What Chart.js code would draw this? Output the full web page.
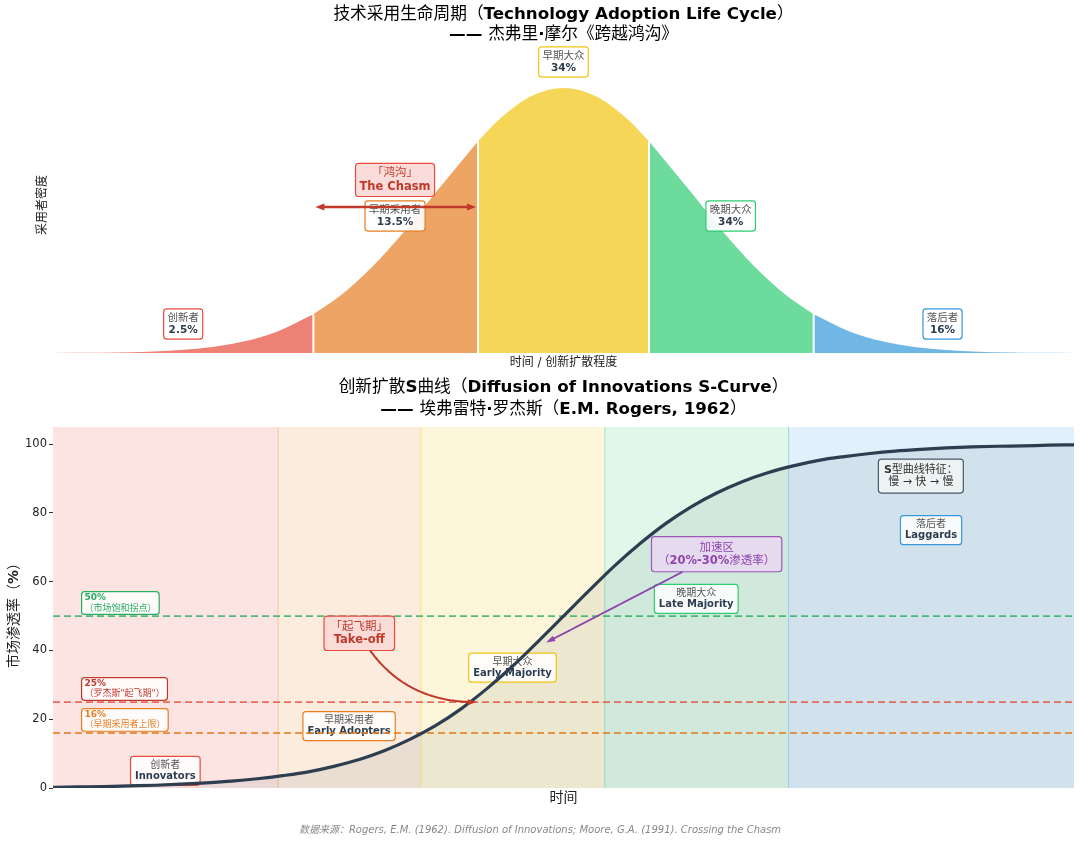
<!DOCTYPE html>
<html lang="zh">
<head>
<meta charset="utf-8">
<title>技术采用生命周期 / 创新扩散S曲线</title>
<script src="https://cdn.jsdelivr.net/npm/chart.js@4.4.1/dist/chart.umd.min.js"></script>
<style>
  html, body { margin: 0; padding: 0; background: #fff; }
  #wrap { position: relative; width: 1080px; height: 842px; overflow: hidden; }
  #bell { position: absolute; left: 0; top: 0; }
  #scurve { position: absolute; left: 0; top: 370px; }
</style>
</head>
<body>
<div id="wrap">
  <canvas id="bell" width="1080" height="370"></canvas>
  <canvas id="scurve" width="1080" height="472"></canvas>
</div>
<script>
// ---- 上图：技术采用生命周期（钟形曲线）----
var bellZ       = [-4, -3.75, -3.5, -3.25, -3, -2.75, -2.5, -2.25, -1.96, -1.75, -1.5, -1.25, -1, -0.67, -0.5, -0.25,
                   0, 0.25, 0.5, 0.67, 1, 1.25, 1.5, 1.75, 1.96, 2.25, 2.5, 2.75, 3, 3.25, 3.5, 3.75, 4];
var bellDensity = [0.0001, 0.0004, 0.0009, 0.0020, 0.0044, 0.0091, 0.0175, 0.0317, 0.0584, 0.0863, 0.1295, 0.1826, 0.2420, 0.3187, 0.3521, 0.3867,
                   0.3989, 0.3867, 0.3521, 0.3187, 0.2420, 0.1826, 0.1295, 0.0863, 0.0584, 0.0317, 0.0175, 0.0091, 0.0044, 0.0020, 0.0009, 0.0004, 0.0001];
var segmentBounds = [-4, -1.96, -0.67, 0.67, 1.96, 4];
var segmentNames  = ['创新者', '早期采用者', '早期大众', '晚期大众', '落后者'];
var segmentShares = ['2.5%', '13.5%', '34%', '34%', '16%'];

// ---- 下图：创新扩散S曲线 ----
var timeSteps = [0, 0.25, 0.5, 0.75, 1, 1.25, 1.5, 1.75, 2, 2.25, 2.5, 2.75, 3, 3.25, 3.5, 3.75, 4, 4.25, 4.5, 4.75,
                 5, 5.25, 5.5, 5.75, 6, 6.25, 6.5, 6.75, 7, 7.25, 7.5, 7.75, 8, 8.25, 8.5, 8.75, 9, 9.25, 9.5, 9.75, 10];
var adoption  = [0.2, 0.3, 0.4, 0.6, 0.8, 1.1, 1.5, 2.0, 2.7, 3.6, 4.7, 6.3, 8.3, 10.9, 14.2, 18.2, 23.1, 28.9, 35.4, 42.6,
                 50.0, 57.4, 64.6, 71.1, 76.9, 81.8, 85.8, 89.1, 91.7, 93.7, 95.3, 96.4, 97.3, 98.0, 98.5, 98.9, 99.2, 99.4, 99.5, 99.7, 99.8];
var phaseBounds  = [0, 2.2, 3.6, 5.4, 7.2, 10];
var phaseNamesCn = ['创新者', '早期采用者', '早期大众', '晚期大众', '落后者'];
var phaseNamesEn = ['Innovators', 'Early Adopters', 'Early Majority', 'Late Majority', 'Laggards'];
var thresholds      = [50, 25, 16];
var thresholdLabels = ['50%', '25%', '16%'];
var thresholdNotes  = ['（市场饱和拐点）', '（罗杰斯"起飞期"）', '（早期采用者上限）'];
var yTicks = [0, 20, 40, 60, 80, 100];

// colours (flat UI palette)
var baseRGB = ['231,76,60', '230,126,34', '241,196,15', '46,204,113', '52,152,219'];
var edgeCol = ['#e74c3c', '#e67e22', '#f1c40f', '#2ecc71', '#3498db'];
var lineCol = ['rgba(39,174,96,0.8)', 'rgba(231,76,60,0.8)', 'rgba(230,126,34,0.8)'];
var noteCol = ['#27ae60', '#c0392b', '#e67e22'];

var FONT = "'DejaVu Sans', 'Noto Sans CJK SC', sans-serif";

function isCJK(ch) {
    var c = ch.codePointAt(0);
    return (c >= 0x2E80 && c <= 0x9FFF) || (c >= 0xFF00 && c <= 0xFFEF);
}

// CJK glyphs stay regular even in bold runs (falls back like matplotlib does)
function pieces(runs) {
    var out = [];
    runs.forEach(function(r) {
        var cur = '', curCjk = null;
        for (var ch of r[0]) {
            var cj = isCJK(ch);
            if (curCjk !== null && cj !== curCjk) { out.push([cur, r[1] && !curCjk]); cur = ''; }
            cur += ch; curCjk = cj;
        }
        if (cur) out.push([cur, r[1] && !curCjk]);
    });
    return out;
}

function fontFor(bold, size, italic) {
    return (italic ? 'italic ' : '') + (bold ? 'bold ' : '') + size + 'px ' + FONT;
}

function runsWidth(ctx, runs, size, italic) {
    var w = 0;
    pieces(runs).forEach(function(p) { ctx.font = fontFor(p[1], size, italic); w += ctx.measureText(p[0]).width; });
    return w;
}

function drawRuns(ctx, runs, x, y, size, color, align, italic) {
    var w = runsWidth(ctx, runs, size, italic);
    var cx = align === 'left' ? x : (align === 'right' ? x - w : x - w / 2);
    ctx.fillStyle = color;
    ctx.textBaseline = 'middle';
    ctx.textAlign = 'left';
    pieces(runs).forEach(function(p) {
        ctx.font = fontFor(p[1], size, italic);
        ctx.fillText(p[0], cx, y);
        cx += ctx.measureText(p[0]).width;
    });
}

function roundRectPath(ctx, x, y, w, h, r) {
    ctx.beginPath();
    ctx.moveTo(x + r, y);
    ctx.lineTo(x + w - r, y); ctx.quadraticCurveTo(x + w, y, x + w, y + r);
    ctx.lineTo(x + w, y + h - r); ctx.quadraticCurveTo(x + w, y + h, x + w - r, y + h);
    ctx.lineTo(x + r, y + h); ctx.quadraticCurveTo(x, y + h, x, y + h - r);
    ctx.lineTo(x, y + r); ctx.quadraticCurveTo(x, y, x + r, y);
    ctx.closePath();
}

// text box anchored at data coords; align 'left' = anchor is bottom-left corner
function drawBox(chart, b) {
    var ctx = chart.ctx;
    var px = chart.scales.x.getPixelForValue(b.x), py = chart.scales.y.getPixelForValue(b.y);
    var lh = b.size * 1.15;
    var maxW = 0;
    b.lines.forEach(function(l) { maxW = Math.max(maxW, runsWidth(ctx, l.runs, b.size)); });
    var w = maxW + 2 * b.padX, h = b.lines.length * lh + 2 * b.padY;
    var left = b.align === 'left' ? px : px - w / 2;
    var top = b.align === 'left' ? py - h : py - h / 2;
    ctx.save();
    roundRectPath(ctx, left, top, w, h, 3);
    ctx.fillStyle = b.fill; ctx.fill();
    ctx.lineWidth = 1.2; ctx.strokeStyle = b.stroke; ctx.stroke();
    b.lines.forEach(function(l, i) {
        var ty = top + b.padY + lh * (i + 0.5);
        var tx = b.align === 'left' ? left + b.padX : left + w / 2;
        drawRuns(ctx, l.runs, tx, ty, b.size, l.color, b.align === 'left' ? 'left' : 'center');
    });
    ctx.restore();
    return { left: left, top: top, w: w, h: h, cx: left + w / 2, cy: top + h / 2 };
}

function arrowHead(ctx, tip, from, len, wid, color) {
    var a = Math.atan2(tip.y - from.y, tip.x - from.x);
    var bx = tip.x - len * Math.cos(a), by = tip.y - len * Math.sin(a);
    ctx.beginPath();
    ctx.moveTo(tip.x, tip.y);
    ctx.lineTo(bx + wid / 2 * Math.sin(a), by - wid / 2 * Math.cos(a));
    ctx.lineTo(bx - wid / 2 * Math.sin(a), by + wid / 2 * Math.cos(a));
    ctx.closePath();
    ctx.fillStyle = color;
    ctx.fill();
}

// arc3-style connector from a box to a pixel point
function connector(ctx, box, tip, rad, color, lw) {
    var p0 = { x: box.cx, y: box.cy };
    var dx = tip.x - p0.x, dy = tip.y - p0.y;
    var c = { x: (p0.x + tip.x) / 2 - rad * dy, y: (p0.y + tip.y) / 2 + rad * dx };
    function pt(t) {
        return { x: (1 - t) * (1 - t) * p0.x + 2 * (1 - t) * t * c.x + t * t * tip.x,
                 y: (1 - t) * (1 - t) * p0.y + 2 * (1 - t) * t * c.y + t * t * tip.y };
    }
    var t0 = 0, t;
    for (t = 0; t <= 1; t += 0.002) {
        var p = pt(t);
        if (p.x < box.left || p.x > box.left + box.w || p.y < box.top || p.y > box.top + box.h) { t0 = t; break; }
    }
    ctx.save();
    ctx.strokeStyle = color; ctx.lineWidth = lw;
    ctx.beginPath();
    var s = pt(t0);
    ctx.moveTo(s.x, s.y);
    for (t = t0; t <= 1; t += 0.01) {
        var q = pt(t);
        if (Math.hypot(tip.x - q.x, tip.y - q.y) < 6) break;
        ctx.lineTo(q.x, q.y);
    }
    ctx.stroke();
    arrowHead(ctx, tip, rad === 0 ? p0 : c, 9, 6, color);
    ctx.restore();
}

// ================= 上图 =================
var bellPoints = bellZ.map(function(z, i) { return { x: z, y: bellDensity[i] }; });
var segmentDatasets = segmentNames.map(function(name, i) {
    return {
        label: name,
        data: bellPoints.filter(function(p) { return p.x >= segmentBounds[i] - 1e-9 && p.x <= segmentBounds[i + 1] + 1e-9; }),
        backgroundColor: 'rgba(' + baseRGB[i] + ',0.7)',
        borderWidth: 0,
        pointRadius: 0,
        fill: 'origin',
        cubicInterpolationMode: 'monotone'
    };
});

var bellLabelPos = [[-2.98, 0.0437], [-1.32, 0.2062], [0, 0.438], [1.31, 0.2062], [2.97, 0.0437]];

var bellDecor = {
    id: 'bellDecor',
    afterDatasetsDraw: function(chart) {
        var ctx = chart.ctx, xs = chart.scales.x, ys = chart.scales.y, area = chart.chartArea;
        // white separators between segments
        ctx.save();
        ctx.strokeStyle = '#ffffff';
        ctx.lineWidth = 2;
        for (var i = 1; i < segmentBounds.length - 1; i++) {
            var k = bellZ.indexOf(segmentBounds[i]);
            var x = xs.getPixelForValue(segmentBounds[i]);
            ctx.beginPath();
            ctx.moveTo(x, ys.getPixelForValue(0));
            ctx.lineTo(x, ys.getPixelForValue(bellDensity[k]));
            ctx.stroke();
        }
        ctx.restore();

        segmentNames.forEach(function(name, i) {
            drawBox(chart, {
                x: bellLabelPos[i][0], y: bellLabelPos[i][1], size: 10.5, padX: 3.8, padY: 3,
                fill: 'rgba(255,255,255,0.9)', stroke: edgeCol[i],
                lines: [{ runs: [[name, false]], color: '#555555' },
                        { runs: [[segmentShares[i], true]], color: '#2c3e50' }]
            });
        });

        // the chasm
        drawBox(chart, {
            x: -1.32, y: 0.2604, size: 11.5, padX: 4, padY: 3.3,
            fill: 'rgba(250,219,216,0.95)', stroke: '#e74c3c',
            lines: [{ runs: [['「鸿沟」', false]], color: '#c0392b' },
                    { runs: [['The Chasm', true]], color: '#c0392b' }]
        });
        var ay = ys.getPixelForValue(0.2198);
        var ax1 = xs.getPixelForValue(segmentBounds[1]) + 2, ax2 = xs.getPixelForValue(segmentBounds[2]) - 2;
        ctx.save();
        ctx.strokeStyle = '#c0392b'; ctx.lineWidth = 2.5;
        ctx.beginPath(); ctx.moveTo(ax1 + 6, ay); ctx.lineTo(ax2 - 6, ay); ctx.stroke();
        arrowHead(ctx, { x: ax1, y: ay }, { x: ax2, y: ay }, 9, 7, '#c0392b');
        arrowHead(ctx, { x: ax2, y: ay }, { x: ax1, y: ay }, 9, 7, '#c0392b');
        ctx.restore();

        // titles and axis labels
        var cx = (area.left + area.right) / 2;
        drawRuns(ctx, [['技术采用生命周期（Technology Adoption Life Cycle）', true]], cx, 15, 16.7, '#000', 'center');
        drawRuns(ctx, [['—— 杰弗里·摩尔《跨越鸿沟》', true]], cx, 34.5, 16.7, '#000', 'center');
        drawRuns(ctx, [['时间 / 创新扩散程度', false]], cx, area.bottom + 10, 12, '#222', 'center');
        ctx.save();
        ctx.translate(43, 205);
        ctx.rotate(-Math.PI / 2);
        drawRuns(ctx, [['采用者密度', false]], 0, 0, 12, '#222', 'center');
        ctx.restore();
    }
};

new Chart(document.getElementById('bell'), {
    type: 'line',
    data: { datasets: segmentDatasets },
    options: {
        responsive: false,
        animation: false,
        layout: { padding: { left: 53, right: 6, top: 45, bottom: 17 } },
        plugins: { legend: { display: false }, tooltip: { enabled: false } },
        scales: {
            x: { type: 'linear', min: -4, max: 4, display: false },
            y: { min: 0, max: 0.4636, display: false }
        }
    },
    plugins: [bellDecor]
});

// ================= 下图 =================
var curvePoints = timeSteps.map(function(t, i) { return { x: t, y: adoption[i] }; });

var sDatasets = [{
    label: '市场渗透率',
    data: curvePoints,
    borderColor: '#2c3e50',
    borderWidth: 3.2,
    pointRadius: 0,
    fill: false,
    cubicInterpolationMode: 'monotone',
    order: 0
}];
thresholds.forEach(function(v, i) {
    sDatasets.push({
        label: thresholdLabels[i],
        data: [{ x: phaseBounds[0], y: v }, { x: phaseBounds[phaseBounds.length - 1], y: v }],
        borderColor: lineCol[i],
        borderWidth: 1.8,
        borderDash: [7, 4],
        pointRadius: 0,
        fill: false,
        order: 1
    });
});
sDatasets.push({
    label: 'area',
    role: 'fill',
    data: curvePoints,
    borderWidth: 0,
    pointRadius: 0,
    backgroundColor: 'rgba(44,62,80,0.08)',
    fill: 'origin',
    cubicInterpolationMode: 'monotone',
    order: 2
});

var phaseLabelPos = [[1.1, 5], [2.9, 18], [4.5, 35], [6.3, 55], [8.6, 75]];

var sDecor = {
    id: 'sDecor',
    beforeDatasetsDraw: function(chart) {
        var ctx = chart.ctx, xs = chart.scales.x, area = chart.chartArea;
        ctx.save();
        for (var i = 0; i < phaseNamesCn.length; i++) {
            var x1 = xs.getPixelForValue(phaseBounds[i]), x2 = xs.getPixelForValue(phaseBounds[i + 1]);
            ctx.fillStyle = 'rgba(' + baseRGB[i] + ',0.15)';
            ctx.fillRect(x1, area.top, x2 - x1, area.bottom - area.top);
            if (i > 0) {
                ctx.strokeStyle = 'rgba(' + baseRGB[i] + ',0.35)';
                ctx.lineWidth = 1;
                ctx.beginPath(); ctx.moveTo(x1 + 0.5, area.top); ctx.lineTo(x1 + 0.5, area.bottom); ctx.stroke();
            }
        }
        ctx.restore();
    },
    afterDatasetDraw: function(chart, args) {
        if (chart.data.datasets[args.index].role !== 'fill') return;
        phaseNamesCn.forEach(function(name, i) {
            drawBox(chart, {
                x: phaseLabelPos[i][0], y: phaseLabelPos[i][1], size: 10, padX: 4.5, padY: 3,
                fill: 'rgba(255,255,255,0.85)', stroke: edgeCol[i],
                lines: [{ runs: [[name, false]], color: '#555555' },
                        { runs: [[phaseNamesEn[i], true]], color: '#2c3e50' }]
            });
        });
    },
    afterDatasetsDraw: function(chart) {
        var ctx = chart.ctx, xs = chart.scales.x, ys = chart.scales.y;
        thresholds.forEach(function(v, i) {
            drawBox(chart, {
                x: 0.28, y: v + 0.5, size: 9, padX: 2.8, padY: 1, align: 'left',
                fill: 'rgba(255,255,255,0.85)', stroke: noteCol[i],
                lines: [{ runs: [[thresholdLabels[i], true]], color: noteCol[i] },
                        { runs: [[thresholdNotes[i], false]], color: noteCol[i] }]
            });
        });

        var takeoff = drawBox(chart, {
            x: 3.0, y: 45, size: 11.5, padX: 6.5, padY: 4,
            fill: 'rgba(250,219,216,0.95)', stroke: '#e74c3c',
            lines: [{ runs: [['「起飞期」', false]], color: '#c0392b' },
                    { runs: [['Take-off', true]], color: '#c0392b' }]
        });
        connector(ctx, takeoff, { x: xs.getPixelForValue(4.15), y: ys.getPixelForValue(25) }, 0.3, '#c0392b', 2);

        var accel = drawBox(chart, {
            x: 6.5, y: 68, size: 11.5, padX: 6.5, padY: 4.3,
            fill: 'rgba(232,218,239,0.95)', stroke: '#9b59b6',
            lines: [{ runs: [['加速区', false]], color: '#8e44ad' },
                    { runs: [['（20%-30%渗透率）', true]], color: '#8e44ad' }]
        });
        connector(ctx, accel, { x: xs.getPixelForValue(4.83), y: ys.getPixelForValue(42.3) }, 0, '#8e44ad', 1.8);

        drawBox(chart, {
            x: 8.5, y: 90.7, size: 11, padX: 5.5, padY: 4.3,
            fill: 'rgba(240,243,244,0.92)', stroke: '#4a5a6a',
            lines: [{ runs: [['S型曲线特征：', true]], color: '#333333' },
                    { runs: [['慢 → 快 → 慢', false]], color: '#333333' }]
        });
    },
    afterDraw: function(chart) {
        var ctx = chart.ctx, area = chart.chartArea;
        var cx = (area.left + area.right) / 2;
        drawRuns(ctx, [['创新扩散S曲线（Diffusion of Innovations S-Curve）', true]], cx, 18, 16.7, '#000', 'center');
        drawRuns(ctx, [['—— 埃弗雷特·罗杰斯（E.M. Rogers, 1962）', true]], cx, 39.5, 16.7, '#000', 'center');
        drawRuns(ctx, [['时间', false]], cx, area.bottom + 10, 14, '#222', 'center');
        ctx.save();
        ctx.translate(14, 242);
        ctx.rotate(-Math.PI / 2);
        drawRuns(ctx, [['市场渗透率（%）', true]], 0, 0, 14, '#222', 'center');
        ctx.restore();
        drawRuns(ctx, [['数据来源：Rogers, E.M. (1962). Diffusion of Innovations; Moore, G.A. (1991). Crossing the Chasm', false]],
                 540, 460, 10, '#888888', 'center', true);
    }
};

new Chart(document.getElementById('scurve'), {
    type: 'line',
    data: { datasets: sDatasets },
    options: {
        responsive: false,
        animation: false,
        layout: { padding: { left: 0, right: 6, top: 57, bottom: 54 } },
        plugins: { legend: { display: false }, tooltip: { enabled: false } },
        scales: {
            x: { type: 'linear', min: phaseBounds[0], max: phaseBounds[phaseBounds.length - 1], display: false },
            y: {
                min: 0, max: 105,
                afterBuildTicks: function(scale) { scale.ticks = yTicks.map(function(v) { return { value: v }; }); },
                afterFit: function(scale) { scale.width = 53; },
                border: { display: false },
                grid: { drawOnChartArea: false, drawTicks: true, tickLength: 4, color: '#333333' },
                ticks: { padding: 2, color: '#222222', font: { family: FONT, size: 11.5 } }
            }
        }
    },
    plugins: [sDecor]
});
</script>
</body>
</html>
